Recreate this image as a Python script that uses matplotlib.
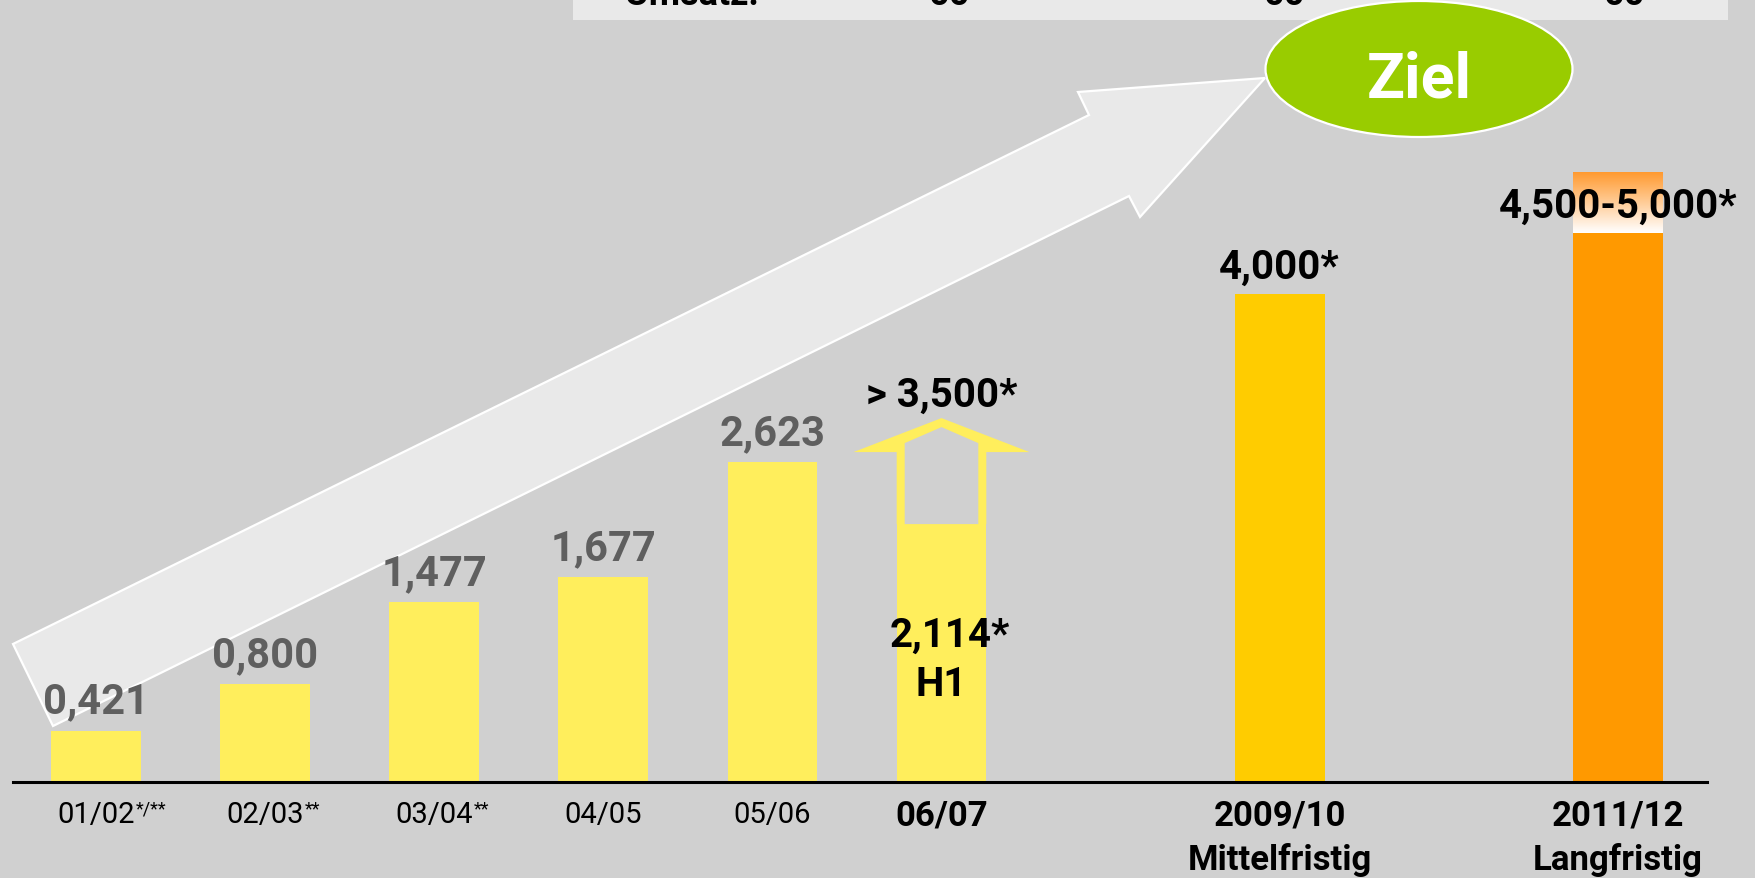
import matplotlib
matplotlib.use("Agg")
import matplotlib.pyplot as plt
import numpy as np
from matplotlib.patches import Polygon, Ellipse, Rectangle
from matplotlib.colors import LinearSegmentedColormap

# Umsatz data (in Mrd.)
years = ['01/02', '02/03', '03/04', '04/05', '05/06', '06/07']
year_marks = ['*/**', '**', '**', '', '', '']
umsatz = [0.421, 0.800, 1.477, 1.677, 2.623, 2.114]
umsatz_labels = ['0,421', '0,800', '1,477', '1,677', '2,623']
h1_label = '2,114*'
h1_note = 'H1'
target_0607 = '> 3,500*'
goal_years = ['2009/10', '2011/12']
goal_horizon = ['Mittelfristig', 'Langfristig']
goal_low = [4.000, 4.500]
goal_high = [4.000, 5.000]
goal_labels = ['4,000*', '4,500-5,000*']
positions = [0, 1, 2, 3, 4, 5, 7, 9]

W, H = 1755, 879
bg = '#d0d0d0'
yellow = '#ffee5c'
gold = '#ffcc00'
orange = '#ff9900'
grey_txt = '#5f5f5f'
bold_font = ['Roboto', 'DejaVu Sans']

fig = plt.figure(figsize=(W / 100, H / 100), dpi=100)
fig.patch.set_facecolor(bg)
ax = fig.add_axes([0, 0, 1, 1])
ax.set_facecolor(bg)
ax.axis('off')

# axis scale: x unit ~169 px, y unit ~122 px, origin at (96, 783) px
x0, y0, sx, sy = 96, 783, 169.1, 122.0
ax.set_xlim(-x0 / sx, (W - x0) / sx)
ax.set_ylim(-(H - y0) / sy, y0 / sy)


def fpx(x, y):
    return (x / W, 1 - y / H)


bw = 0.53

# top table strip (cut off)
ax.add_patch(Rectangle(fpx(573, 21), (1728 - 573) / W, 30 / H, transform=fig.transFigure,
                       facecolor='#e9e9e9', edgecolor='none', zorder=1))
for txt, xp in [('Umsatz:', 625), ('00', 928), ('00', 1263), ('00', 1603)]:
    ax.text(*fpx(xp, 5), txt, transform=fig.transFigure, ha='left', va='baseline',
            fontsize=26, fontweight='bold', family=bold_font, color='black', zorder=2)

# big growth arrow
arrow_px = [(13, 645), (1089, 116), (1078, 93), (1265, 79), (1140, 218), (1129, 197), (53, 727)]
ax.add_patch(Polygon([fpx(*p) for p in arrow_px], closed=True, transform=fig.transFigure,
                     facecolor='#e9e9e9', edgecolor='white', linewidth=1.6, zorder=2))

# Ziel ellipse
ax.add_patch(Ellipse(fpx(1419, 70), 307 / W, 136 / H, transform=fig.transFigure,
                     facecolor='#99cc00', edgecolor='white', linewidth=1.6, zorder=4))
ax.text(*fpx(1419, 98), 'Ziel', transform=fig.transFigure, ha='center', va='baseline',
        fontsize=45, fontweight='bold', family=bold_font, color='white', zorder=5)

# historic bars
ax.bar(positions[:6], umsatz, width=bw, color=yellow, zorder=3)
# goal bars
ax.bar(positions[6], goal_low[0], width=bw, color=gold, zorder=3)
ax.bar(positions[7], goal_low[1], width=bw, color=orange, zorder=3)
grad = LinearSegmentedColormap.from_list('g', ['white', '#ff9a30'])
ax.imshow(np.linspace(0, 1, 200).reshape(-1, 1), cmap=grad, origin='lower', aspect='auto',
          extent=[positions[7] - bw / 2, positions[7] + bw / 2, goal_low[1], goal_high[1]], zorder=3)

# baseline
ax.axhline(0, xmin=13 / W, xmax=1707 / W, color='black', linewidth=2.2, zorder=4)

# value labels of past years
for p, v, lab in zip(positions[:5], umsatz[:5], umsatz_labels):
    ax.annotate(lab, (p, v), xytext=(0, 13), textcoords='offset points', ha='center',
                va='baseline', fontsize=30, fontweight='bold', family=bold_font,
                color=grey_txt, zorder=6)

# hollow arrow on top of the 06/07 H1 bar
cx, h1 = positions[5], umsatz[5]
hw, t, head = bw / 2, 8 / sx, 88 / sx
base, tip = h1 + 72 / sy, h1 + 106 / sy
ibase, itip = h1 + 81 / sy, h1 + 97 / sy
outer = [(cx - hw, h1), (cx - hw, base), (cx - head, base), (cx, tip),
         (cx + head, base), (cx + hw, base), (cx + hw, h1)]
inner = [(cx - hw + t, h1), (cx - hw + t, ibase), (cx, itip),
         (cx + hw - t, ibase), (cx + hw - t, h1)]
ax.add_patch(Polygon(outer, closed=True, facecolor=yellow, edgecolor='none', zorder=3))
ax.add_patch(Polygon(inner, closed=True, facecolor=bg, edgecolor='none', zorder=3.5))
ax.annotate(target_0607, (cx, tip), xytext=(0, 9), textcoords='offset points', ha='center',
            va='baseline', fontsize=29, fontweight='bold', family=bold_font, color='black', zorder=6)
ax.text(cx + 0.05, 1.115, h1_label, ha='center', va='baseline', fontsize=29,
        fontweight='bold', family=bold_font, color='black', zorder=6)
ax.text(cx, 0.713, h1_note, ha='center', va='baseline', fontsize=29,
        fontweight='bold', family=bold_font, color='black', zorder=6)

# goal labels
for p, v, lab in zip(positions[6:], goal_low, goal_labels):
    ax.annotate(lab, (p, v), xytext=(0, 12), textcoords='offset points', ha='center',
                va='baseline', fontsize=29, fontweight='bold', family=bold_font,
                color='black', zorder=6)

# x labels (regular, with superscript footnote marks)
renderer = fig.canvas.get_renderer()
for p, yr, mark in zip(positions[:5], years[:5], year_marks[:5]):
    t_ = ax.text(p, -0.328, yr, ha='center', va='baseline', fontsize=21,
                 family=bold_font, color='black')
    if mark:
        w_pts = t_.get_window_extent(renderer).width * 72 / fig.dpi
        ax.annotate(mark, xy=(p, -0.328), xytext=(w_pts / 2 + 0.5, 16), textcoords='offset points',
                    ha='left', va='top', fontsize=13, family=bold_font, color='black')
ax.text(positions[5], -0.352, years[5], ha='center', va='baseline', fontsize=25,
        fontweight='bold', family=bold_font, color='black')
for p, yr, hz in zip(positions[6:], goal_years, goal_horizon):
    ax.text(p, -0.352, yr, ha='center', va='baseline', fontsize=25,
            fontweight='bold', family=bold_font, color='black')
    ax.text(p, -0.713, hz, ha='center', va='baseline', fontsize=25,
            fontweight='bold', family=bold_font, color='black')

fig.savefig('out.png', dpi=100, facecolor=bg)
